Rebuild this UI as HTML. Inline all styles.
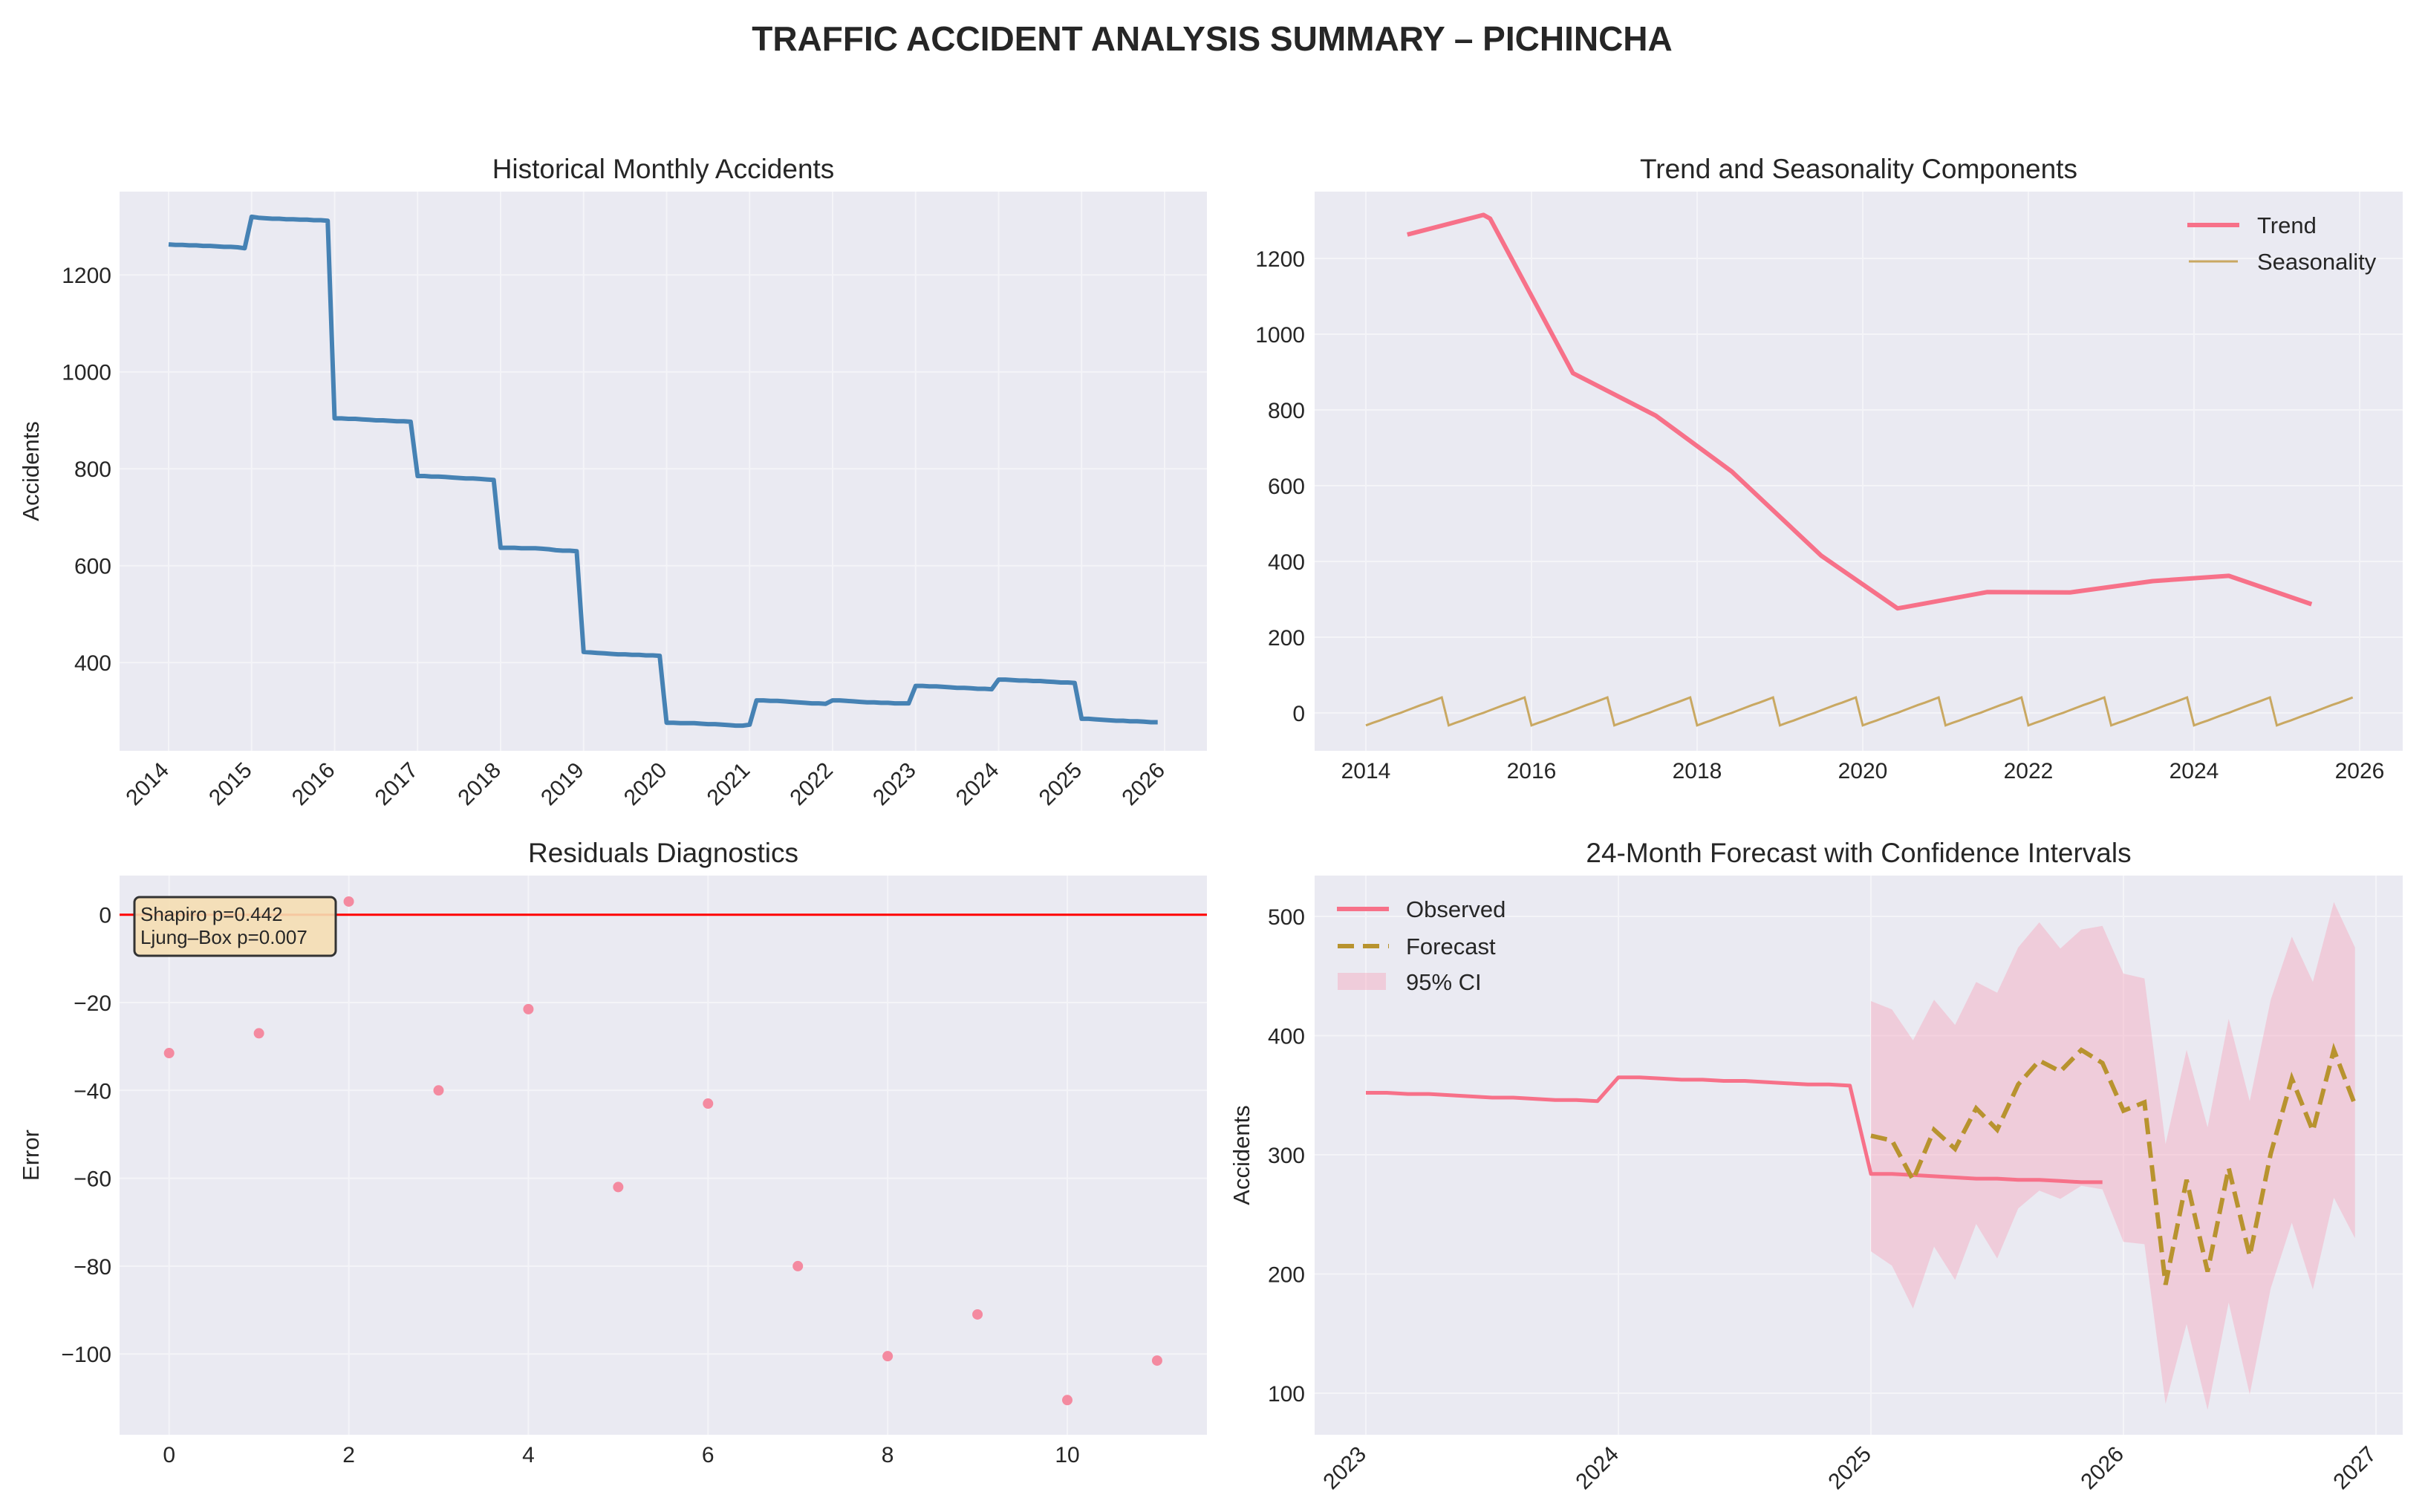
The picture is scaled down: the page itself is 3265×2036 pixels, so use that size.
<!DOCTYPE html>
<html><head><meta charset="utf-8"><title>Traffic Accident Analysis Summary – Pichincha</title>
<style>
html,body{margin:0;padding:0;background:#fff;}
svg{display:block;font-family:"Liberation Sans",Arial,sans-serif;}
.tick{font-size:30px;fill:#262626;}
.ttl{font-size:37px;fill:#262626;}
.lab{font-size:31px;fill:#262626;}
</style></head>
<body>
<svg id="fig" xmlns="http://www.w3.org/2000/svg" width="3265" height="2036" viewBox="0 0 3265 2036">
<rect width="3265" height="2036" fill="#ffffff"/>
<text x="1632" y="68" text-anchor="middle" font-size="46" font-weight="bold" fill="#262626">TRAFFIC ACCIDENT ANALYSIS SUMMARY – PICHINCHA</text>
<g id="p1"></g>
<g id="p2"></g>
<g id="p3"></g>
<g id="p4"></g>
</svg>
<script>
// ---- Data ----
const histStartYear = 2014;
const accidents = [
1263,1262,1262,1261,1261,1260,1260,1259,1258,1258,1257,1255,
1320,1318,1317,1316,1316,1315,1315,1314,1314,1313,1313,1312,
904,904,903,903,902,901,900,900,899,898,898,897,
785,785,784,784,783,782,781,780,780,779,778,777,
637,637,637,636,636,636,635,634,632,631,631,630,
422,421,420,419,418,417,417,416,416,415,415,414,
276,276,275,275,275,274,273,273,272,271,270,270,
272,322,322,321,321,320,319,318,317,316,316,315,
322,322,321,320,319,318,318,317,317,316,316,316,
352,352,351,351,350,349,348,348,347,346,346,345,
365,365,364,363,363,362,362,361,360,359,359,358,
284,284,283,282,281,280,280,279,279,278,277,277
];
const trendYears  = [2014.5,2015.42,2015.5,2016.5,2017.5,2018.42,2019.5,2020.42,2020.5,2021.5,2022.5,2023.5,2024.42,2025.42];
const trendValues = [1263,1315,1305,897,785,637,415,276,279,319,318,348,362,287];
const seasonalMonthly = [-33,-26,-20,-13,-6,0,7,14,21,27,34,41];
const seasonYears = [2014,2015,2016,2017,2018,2019,2020,2021,2022,2023,2024,2025];
const residualLags = [0,1,2,3,4,5,6,7,8,9,10,11];
const residuals = [-31.5,-27,3,-40,-21.5,-62,-43,-80,-100.5,-91,-110.5,-101.5];
const forecastStartYear = 2025;
const forecast = [316,312,279,321,305,339,321,359,379,370,388,377,337,344,191,279,202,289,215,301,364,320,388,342];
const ciUpper  = [429,422,396,430,409,445,436,474,495,473,489,492,452,448,309,388,323,414,345,430,483,445,512,474];
const ciLower  = [219,207,171,223,195,242,213,255,270,263,274,271,227,225,91,158,86,176,99,188,243,187,264,230];
const observedStartYear = 2023;
const p1Ticks = [400,600,800,1000,1200];
const p1Years = [2014,2015,2016,2017,2018,2019,2020,2021,2022,2023,2024,2025,2026];
const p2Ticks = [0,200,400,600,800,1000,1200];
const p2Years = [2014,2016,2018,2020,2022,2024,2026];
const p3Ticks = [0,-20,-40,-60,-80,-100];
const p3XTicks = [0,2,4,6,8,10];
const p4Ticks = [100,200,300,400,500];
const p4Years = [2023,2024,2025,2026,2027];

const NS = "http://www.w3.org/2000/svg";
const GRID = '#f4f4f8';
function mk(parent, tag, attrs, txt){
  const e = document.createElementNS(NS, tag);
  for (const k in attrs) e.setAttribute(k, attrs[k]);
  if (txt !== undefined) e.textContent = txt;
  parent.appendChild(e); return e;
}
function lin(d0,d1,r0,r1){ return v => r0 + (v-d0)/(d1-d0)*(r1-r0); }
function fmt(v){ return v<0 ? "\u2212"+Math.abs(v) : String(v); }

function panel(g, L, T, R, B){
  const bg = mk(g,'rect',{x:L,y:T,width:R-L,height:B-T,fill:'#eaeaf2'});
  
  
}
function gridY(g, ticks, y, L, R, labelX){
  ticks.forEach(t=>{
    const ln = mk(g,'line',{x1:L,x2:R,y1:y(t),y2:y(t),stroke:GRID,'stroke-width':2});
    
    
    const tx = mk(g,'text',{x:labelX,y:y(t)+11,'text-anchor':'end',class:'tick'},fmt(t));
    
    
  });
}
function gridX(g, ticks, x, T, B, rotate){
  ticks.forEach(t=>{
    const ln = mk(g,'line',{x1:x(t),x2:x(t),y1:T,y2:B,stroke:GRID,'stroke-width':2});
    
    
    let tx;
    if (rotate){
      const ax = x(t)+2, ay = B+28;
      tx = mk(g,'text',{x:ax,y:ay,'text-anchor':'end',class:'tick',transform:`rotate(-45 ${ax} ${ay})`},fmt(t));
    } else {
      tx = mk(g,'text',{x:x(t),y:B+37,'text-anchor':'middle',class:'tick'},fmt(t));
    }
    
    
  });
}
function title(g, cx, y, s){
  const t = mk(g,'text',{x:cx,y:y,'text-anchor':'middle',class:'ttl'},s);
  
  
}
function ylabel(g, x, cy, s){
  const t = mk(g,'text',{x:x,y:cy,'text-anchor':'middle',class:'lab',transform:`rotate(-90 ${x} ${cy})`},s);
  
  
}
function pts(xs, ys, fx, fy){ return xs.map((v,i)=>fx(v).toFixed(1)+','+fy(ys[i]).toFixed(1)).join(' '); }

// ---- Panel 1 ----
(function(){
  const g = document.getElementById('p1');
  const L=161,T=258,R=1625,B=1011;
  panel(g,L,T,R,B);
  const x = lin(2014,2026,227,1568);
  const y = lin(218,1372,B,T);
  gridY(g,p1Ticks,y,L,R,150);
  gridX(g,p1Years,x,T,B,true);
  const xs = accidents.map((v,i)=>histStartYear+i/12);
  const pl = mk(g,'polyline',{points:pts(xs,accidents,x,y),fill:'none',stroke:'#4682b4','stroke-width':6,'stroke-linejoin':'round'});
  
  
  title(g,(L+R)/2,240,'Historical Monthly Accidents');
  ylabel(g,52,(T+B)/2,'Accidents');
})();

// ---- Panel 2 ----
(function(){
  const g = document.getElementById('p2');
  const L=1770,T=258,R=3235,B=1011;
  panel(g,L,T,R,B);
  const x = lin(2014,2026,1839,3177);
  const y = lin(0,200,960,858);
  gridY(g,p2Ticks,y,L,R,1757);
  gridX(g,p2Years,x,T,B,false);
  const sx=[], sy=[];
  seasonYears.forEach(yr=>seasonalMonthly.forEach((v,m)=>{ sx.push(yr+m/12); sy.push(v); }));
  const s = mk(g,'polyline',{points:pts(sx,sy,x,y),fill:'none',stroke:'#c9a862','stroke-width':3});
  
  
  const t = mk(g,'polyline',{points:pts(trendYears,trendValues,x,y),fill:'none',stroke:'#f77189','stroke-width':6,'stroke-linejoin':'round'});
  
  
  const lg = mk(g,'g',{});
  
  
  const e1 = mk(lg,'g',{});
  
  
  mk(e1,'line',{x1:2945,x2:3015,y1:303,y2:303,stroke:'#f77189','stroke-width':6});
  mk(e1,'text',{x:3039,y:314,class:'lab'},'Trend');
  const e2 = mk(lg,'g',{});
  
  
  mk(e2,'line',{x1:2947,x2:3013,y1:352,y2:352,stroke:'#c9a862','stroke-width':3});
  mk(e2,'text',{x:3039,y:363,class:'lab'},'Seasonality');
  title(g,(L+R)/2,240,'Trend and Seasonality Components');
})();

// ---- Panel 3 ----
(function(){
  const g = document.getElementById('p3');
  const L=161,T=1179,R=1625,B=1932;
  panel(g,L,T,R,B);
  const x = lin(0,10,227.7,1437);
  const y = lin(0,-20,1231.7,1350);
  gridY(g,p3Ticks,y,L,R,150);
  gridX(g,p3XTicks,x,T,B,false);
  const zl = mk(g,'line',{x1:L,x2:R,y1:y(0),y2:y(0),stroke:'#ff0000','stroke-width':3});
  
  
  residualLags.forEach((v,i)=>{
    const c = mk(g,'circle',{cx:x(v),cy:y(residuals[i]),r:7,fill:'#f48aa0'});
    
    
  });
  const box = mk(g,'g',{});
  
  
  mk(box,'rect',{x:181,y:1208,width:271,height:79,rx:7,fill:'#f5deb3','fill-opacity':0.9,stroke:'#333','stroke-width':3});
  mk(box,'text',{x:189,y:1240,'font-size':26,fill:'#262626'},'Shapiro p=0.442');
  mk(box,'text',{x:189,y:1271,'font-size':26,fill:'#262626'},'Ljung–Box p=0.007');
  title(g,(L+R)/2,1161,'Residuals Diagnostics');
  ylabel(g,52,(T+B)/2,'Error');
})();

// ---- Panel 4 ----
(function(){
  const g = document.getElementById('p4');
  const L=1770,T=1179,R=3235,B=1932;
  panel(g,L,T,R,B);
  const x = lin(2023,2027,1839,3199);
  const y = lin(100,500,1876,1234);
  gridY(g,p4Ticks,y,L,R,1757);
  gridX(g,p4Years,x,T,B,true);
  const fx = forecast.map((v,i)=>forecastStartYear+i/12);
  const up = fx.map((v,i)=>x(v).toFixed(1)+','+y(ciUpper[i]).toFixed(1));
  const lo = fx.map((v,i)=>x(v).toFixed(1)+','+y(ciLower[i]).toFixed(1)).reverse();
  const ci = mk(g,'polygon',{points:up.concat(lo).join(' '),fill:'#f7a1b7','fill-opacity':0.4});
  
  
  const obs = accidents.slice((observedStartYear-histStartYear)*12);
  const ox = obs.map((v,i)=>observedStartYear+i/12);
  const o = mk(g,'polyline',{points:pts(ox,obs,x,y),fill:'none',stroke:'#f77189','stroke-width':5,'stroke-linejoin':'round'});
  
  
  const f = mk(g,'polyline',{points:pts(fx,forecast,x,y),fill:'none',stroke:'#b8932f','stroke-width':6,'stroke-dasharray':'22 10'});
  
  
  const lg = mk(g,'g',{});
  
  
  const e1 = mk(lg,'g',{});
  
  
  mk(e1,'line',{x1:1800,x2:1870,y1:1224,y2:1224,stroke:'#f77189','stroke-width':6});
  mk(e1,'text',{x:1893,y:1235,class:'lab'},'Observed');
  const e2 = mk(lg,'g',{});
  
  
  mk(e2,'line',{x1:1801,x2:1870,y1:1274,y2:1274,stroke:'#b8932f','stroke-width':6,'stroke-dasharray':'22 12'});
  mk(e2,'text',{x:1893,y:1285,class:'lab'},'Forecast');
  const e3 = mk(lg,'g',{});
  
  
  mk(e3,'rect',{x:1801,y:1310,width:65,height:23,fill:'#f7a1b7','fill-opacity':0.4});
  mk(e3,'text',{x:1893,y:1333,class:'lab'},'95% CI');
  title(g,(L+R)/2,1161,'24-Month Forecast with Confidence Intervals');
  ylabel(g,1682,(T+B)/2,'Accidents');
})();
</script>
</body></html>
